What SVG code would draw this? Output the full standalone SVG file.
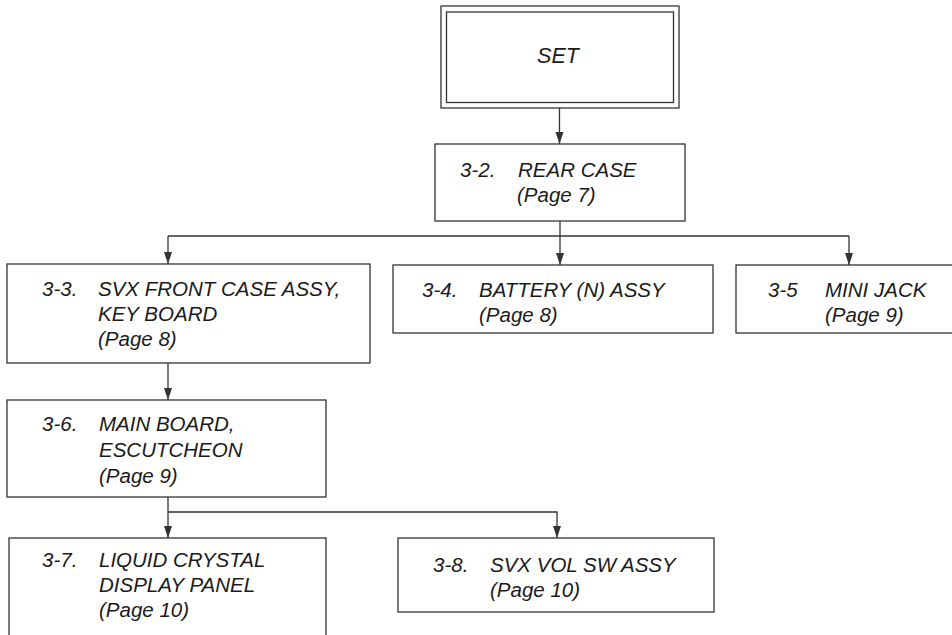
<svg xmlns="http://www.w3.org/2000/svg" width="952" height="635" viewBox="0 0 952 635">
<defs>
<style>
.box{fill:#fff;stroke:#333;stroke-width:1.3}
.ln{fill:none;stroke:#333;stroke-width:1.3}
.t{font-family:"Liberation Sans",Arial,sans-serif;font-style:italic;font-size:20.5px;fill:#1a1a1a}
</style>
<marker id="ah" markerUnits="userSpaceOnUse" markerWidth="10" markerHeight="14" viewBox="0 0 10 14" refX="5" refY="13" orient="auto-start-reverse">
<path d="M1 1 L9 1 L5 13 Z" fill="#333" transform="rotate(0)"/>
</marker>
<marker id="arr" markerUnits="userSpaceOnUse" markerWidth="14" markerHeight="10" viewBox="0 0 14 10" refX="13" refY="5" orient="auto">
<path d="M1 1 L13 5 L1 9 Z" fill="#333"/>
</marker>
</defs>
<rect width="952" height="635" fill="#fff"/>
<g id="connectors">
<path class="ln" d="M559.5 108 V144" marker-end="url(#arr)"/>
<path class="ln" d="M560 221 V265" marker-end="url(#arr)"/>
<path class="ln" d="M168 236 H849"/>
<path class="ln" d="M168 236 V264" marker-end="url(#arr)"/>
<path class="ln" d="M849 236 V265" marker-end="url(#arr)"/>
<path class="ln" d="M168 363 V400" marker-end="url(#arr)"/>
<path class="ln" d="M168 497 V538" marker-end="url(#arr)"/>
<path class="ln" d="M168 512 H557 V538" marker-end="url(#arr)"/>
</g>
<g id="set">
<rect class="box" x="441" y="6" width="238" height="102"/>
<rect class="box" x="446.5" y="12" width="227" height="90.5"/>
<text class="t" x="558" y="63" text-anchor="middle" style="font-size:21.5px">SET</text>
</g>
<g id="rear-case">
<rect class="box" x="435" y="144" width="250" height="77"/>
<text class="t" x="460" y="177">3-2.</text>
<text class="t" x="518" y="177">REAR CASE</text>
<text class="t" x="517" y="202">(Page 7)</text>
</g>
<g id="svx-front-case">
<rect class="box" x="7" y="264" width="363" height="99"/>
<text class="t" x="42" y="296">3-3.</text>
<text class="t" x="98" y="296">SVX FRONT CASE ASSY,</text>
<text class="t" x="98" y="321">KEY BOARD</text>
<text class="t" x="98" y="346">(Page 8)</text>
</g>
<g id="battery">
<rect class="box" x="393" y="265" width="320" height="68"/>
<text class="t" x="422" y="296.5">3-4.</text>
<text class="t" x="479" y="296.5">BATTERY (N) ASSY</text>
<text class="t" x="479" y="321.5">(Page 8)</text>
</g>
<g id="mini-jack">
<rect class="box" x="736" y="265" width="230" height="68"/>
<text class="t" x="768" y="296.5">3-5</text>
<text class="t" x="825" y="296.5">MINI JACK</text>
<text class="t" x="825" y="321.5">(Page 9)</text>
</g>
<g id="main-board">
<rect class="box" x="7" y="400" width="319" height="97"/>
<text class="t" x="42" y="431">3-6.</text>
<text class="t" x="99" y="431">MAIN BOARD,</text>
<text class="t" x="99" y="457">ESCUTCHEON</text>
<text class="t" x="99" y="483">(Page 9)</text>
</g>
<g id="lcd-panel">
<rect class="box" x="9" y="538" width="317" height="120"/>
<text class="t" x="42" y="566.5">3-7.</text>
<text class="t" x="99" y="566.5">LIQUID CRYSTAL</text>
<text class="t" x="99" y="591.5">DISPLAY PANEL</text>
<text class="t" x="99" y="616.5">(Page 10)</text>
</g>
<g id="vol-sw">
<rect class="box" x="398" y="538" width="316" height="74"/>
<text class="t" x="433" y="572">3-8.</text>
<text class="t" x="490" y="572">SVX VOL SW ASSY</text>
<text class="t" x="490" y="596.5">(Page 10)</text>
</g>
</svg>
